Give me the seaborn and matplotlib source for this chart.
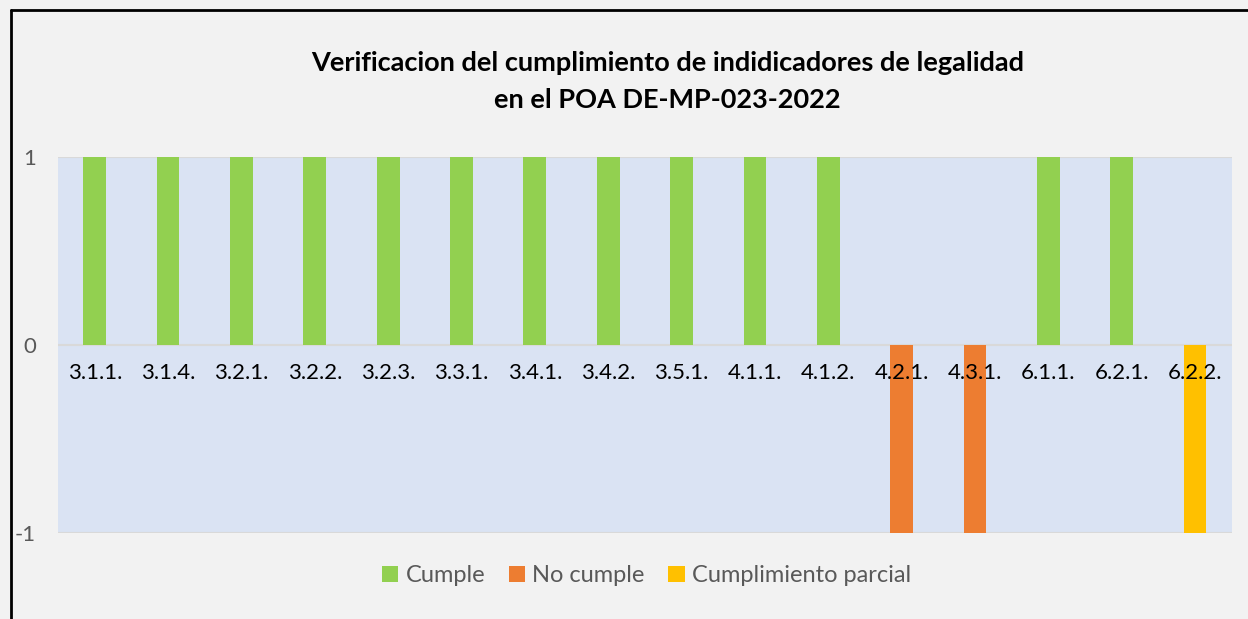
import matplotlib
matplotlib.use("Agg")
import matplotlib.pyplot as plt
from matplotlib.lines import Line2D
import seaborn as sns
import pandas as pd

# Data
indicadores = ["3.1.1.", "3.1.4.", "3.2.1.", "3.2.2.", "3.2.3.", "3.3.1.", "3.4.1.", "3.4.2.",
               "3.5.1.", "4.1.1.", "4.1.2.", "4.2.1.", "4.3.1.", "6.1.1.", "6.2.1.", "6.2.2."]
valores = [1, 1, 1, 1, 1, 1, 1, 1, 1, 1, 1, -1, -1, 1, 1, -1]
estado = ["Cumple"] * 11 + ["No cumple", "No cumple"] + ["Cumple", "Cumple"] + ["Cumplimiento parcial"]
series = ["Cumple", "No cumple", "Cumplimiento parcial"]
colores = ["#92d050", "#ed7d31", "#ffc000"]

df = pd.DataFrame({"indicador": indicadores, "valor": valores, "estado": estado})

sns.set_style("white")
plt.rcParams["font.family"] = ["Lato", "DejaVu Sans"]
plt.rcParams["axes.unicode_minus"] = False

fig = plt.figure(figsize=(12.48, 6.19), dpi=100, facecolor="#f2f2f2")
ax = fig.add_axes([0.0465, 0.139, 0.9405, 0.607])
ax.set_facecolor("#dae3f3")

sns.barplot(data=df, x="indicador", y="valor", hue="estado", hue_order=series,
            order=indicadores, palette=colores, dodge=False, width=0.31,
            saturation=1, linewidth=0, ax=ax, zorder=2)

ax.set_ylim(-1, 1)
ax.set_yticks([-1, 0, 1])
ax.set_xlim(-0.5, len(indicadores) - 0.5)
ax.yaxis.grid(True, color="#d9d9d9", linewidth=1.5, zorder=1)
ax.set_axisbelow(True)
for s in ax.spines.values():
    s.set_visible(False)

# x labels sit just below the zero line
ax.spines["bottom"].set_position(("data", 0))
ax.tick_params(axis="x", length=0, pad=13, labelsize=16, labelcolor="black")
ax.tick_params(axis="y", length=0, pad=16, labelsize=16, labelcolor="#595959")
ax.xaxis.set_zorder(5)
ax.set_xlabel("")
ax.set_ylabel("")

fig.suptitle("Verificacion del cumplimiento de indidicadores de legalidad\nen el POA DE-MP-023-2022",
             x=0.535, y=0.918, fontsize=19.5, fontweight="bold", linespacing=1.65, color="black")

ax.legend(loc="center", bbox_to_anchor=(0.518, 0.07), bbox_transform=fig.transFigure,
          ncol=3, frameon=False, fontsize=17, handlelength=0.7, handleheight=0.7,
          handletextpad=0.3, columnspacing=1.0, labelcolor="#595959")

# outer border (left and top visible)
fig.add_artist(Line2D([0.0088, 0.0088], [0, 0.984], color="black", linewidth=2, transform=fig.transFigure))
fig.add_artist(Line2D([0.0088, 1], [0.984, 0.984], color="black", linewidth=2, transform=fig.transFigure))

fig.savefig("out.png", dpi=100, facecolor=fig.get_facecolor())
